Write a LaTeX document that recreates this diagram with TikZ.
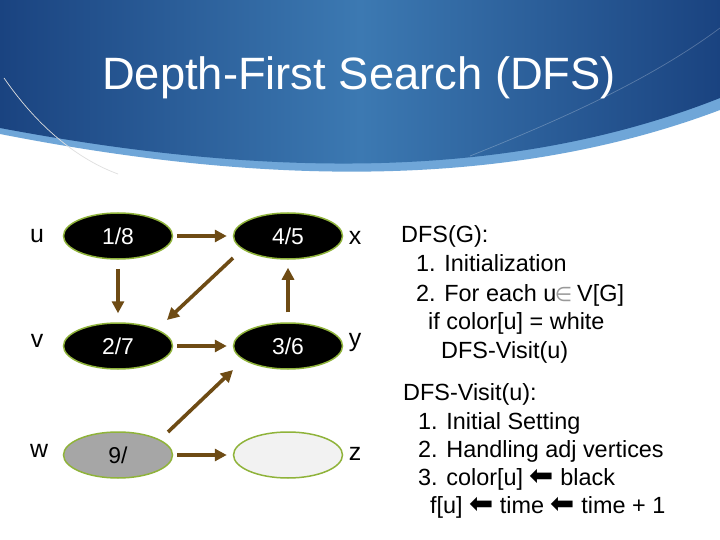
\documentclass[tikz,border=0pt]{standalone}
\usepackage{fontspec}
\setmainfont{Liberation Sans}
\newfontfamily\dejavu{DejaVu Sans}
\usetikzlibrary{arrows.meta,shapes.geometric,calc}
\definecolor{navy}{HTML}{1A4380}
\definecolor{midblue}{HTML}{3C79B2}
\definecolor{bandblue}{HTML}{6FA6D8}
\definecolor{edgebrown}{HTML}{6E4B14}
\definecolor{rimgreen}{HTML}{8FB33A}
\definecolor{greyfill}{HTML}{A6A6A6}
\definecolor{palefill}{HTML}{F2F2F2}
\newcommand{\bigleft}{{\dejavu\fontsize{29}{28}\selectfont ⬅}}
\begin{document}
\begin{tikzpicture}[x=1bp,y=-1bp,
  vert/.style={ellipse, draw=rimgreen, line width=1.5bp, minimum width=109bp, minimum height=46bp, inner sep=0pt, font=\fontsize{23}{26}\selectfont},
  blackv/.style={vert, fill=black, text=white},
  edgearrow/.style={draw=edgebrown, line width=3.6bp, -{Triangle[length=12bp,width=12bp]}},
  lbl/.style={anchor=base, inner sep=0pt, font=\fontsize{25}{28}\selectfont},
  code/.style={anchor=base west, inner sep=0pt, font=\fontsize{23.5}{28}\selectfont}
]
\useasboundingbox (0,0) rectangle (720,540);
\fill[white] (0,0) rectangle (720,540);
% header
\fill[bandblue] (0,0) -- (0,134) .. controls (250,183) and (500,193) .. (720,110) -- (720,0) -- cycle;
\shade[left color=navy, right color=navy, middle color=midblue] (0,0) -- (0,128) .. controls (250,175) and (500,185) .. (720,98) -- (720,0) -- cycle;
\draw[gray!25, line width=0.7bp] (4,78) .. controls (40,130) and (80,160) .. (118,174);
\draw[white, opacity=0.25, line width=0.7bp] (470,156) .. controls (560,120) and (650,80) .. (720,28);
\node[anchor=base, text=white, inner sep=0pt, font=\fontsize{45.5}{50}\selectfont] (title) at (359,90) {Depth-First Search (DFS)};
% vertices
\node[blackv] (u) at (118,236) {1/8};
\node[blackv] (x) at (288,236) {4/5};
\node[blackv] (v) at (118,346) {2/7};
\node[blackv] (y) at (288,346) {3/6};
\node[vert, fill=greyfill] (w) at (118,455) {9/};
\node[vert, fill=palefill] (z) at (288,455) {};
% labels
\node[lbl] (lu) at (37,243) {u};
\node[lbl] (lv) at (37,347) {v};
\node[lbl] (lw) at (39,457) {w};
\node[lbl] (lx) at (355,245) {x};
\node[lbl] (ly) at (355,346) {y};
\node[lbl] (lz) at (355,460) {z};
% edges
\draw[edgearrow, shorten <=4bp, shorten >=6bp] (u) -- (x);
\draw[edgearrow, shorten <=9bp, shorten >=9bp] (u) -- (v);
\draw[edgearrow, shorten <=4bp, shorten >=6bp] (v) -- (y);
\draw[edgearrow, shorten <=4bp, shorten >=6bp] (w) -- (z);
\draw[edgearrow, shorten <=10bp, shorten >=8bp] (y) -- (x);
\draw[edgearrow] ([shift={(-55,22)}]x.center) -- ([shift={(49,-26)}]v.center);
\draw[edgearrow] ([shift={(50,-23)}]w.center) -- ([shift={(-55,24)}]y.center);
% pseudo code
\node[code] (c1) at (401,243) {DFS(G):};
\node[code] (c2) at (416,272) {1. Initialization};
\node[code] (c3) at (416,301) {2. For each u\hspace{-1.5bp}{\dejavu\color{gray!80}\fontsize{20}{24}\selectfont ∈}\hspace{5bp}V[G]};
\node[code] (c4) at (428,329) {if color[u] = white};
\node[code] (c5) at (441,358) {DFS-Visit(u)};
\node[code] (d1) at (403,400) {DFS-Visit(u):};
\node[code] (d2) at (418,429) {1. Initial Setting};
\node[code] (d3) at (418,457) {2. Handling adj vertices};
\node[code] (d4) at (418,485) {3. color[u] \bigleft{} black};
\node[code] (d5) at (430,513) {f[u] \bigleft{} time \bigleft{} time + 1};
\end{tikzpicture}
\end{document}
